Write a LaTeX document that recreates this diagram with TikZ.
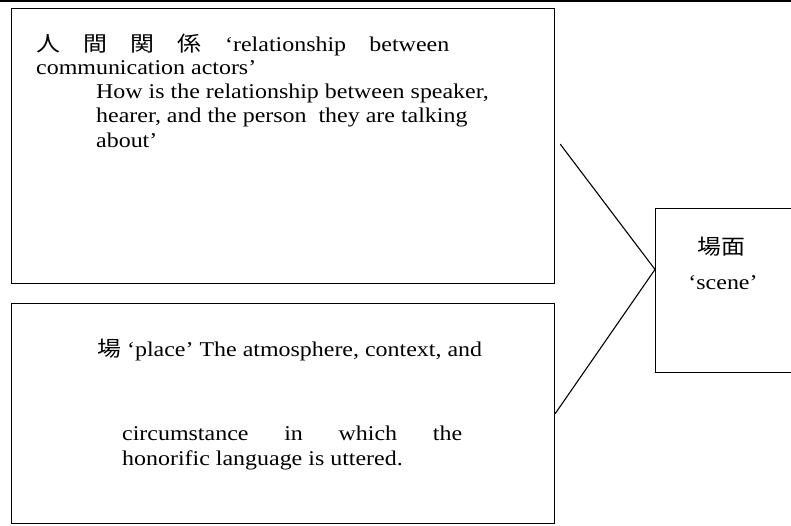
\documentclass[tikz,border=0pt]{standalone}
\usepackage{graphicx}
\usepackage{fontspec}
\setmainfont{Liberation Serif}
\newfontfamily\cjk{Noto Sans CJK JP}
\usetikzlibrary{calc}
\newcommand{\hstretch}[1]{\scalebox{1.14}[1]{#1}}
\tikzset{
  box/.style={draw=black, line width=1.2pt, rectangle, inner sep=0pt, anchor=north west},
  txt/.style={inner sep=0pt, anchor=base west, font=\fontsize{21}{24}\selectfont},
  ctxt/.style={inner sep=0pt, anchor=base, font=\fontsize{21}{24}\selectfont},
  conn/.style={draw=black, line width=1.1pt}
}
\begin{document}
\begin{tikzpicture}[x=1pt,y=-1pt]
\useasboundingbox (0,0) rectangle (791,525);
\fill[white] (0,0) rectangle (791,525);
\draw[line width=2.5pt] (0,1) -- (791,1);
% boxes
\node[box, minimum width=543pt, minimum height=275pt] (rel) at (11,8) {};
\node[box, minimum width=543pt, minimum height=220pt] (place) at (11,303) {};
\node[box, minimum width=140pt, minimum height=164pt] (scene) at (655,208) {};
\coordinate (meet) at ($(scene.north west)!0.372!(scene.south west)$);
% connectors
\draw[conn] (rel.east) ++(5,-2) -- (meet);
\draw[conn] (place.east) -- (meet);
% box 1 text
\node[txt] (r1) at (36,51) {\hstretch{\makebox[362.3pt][s]{{\cjk 人} {\cjk 間} {\cjk 関} {\cjk 係} ‘relationship between}}};
\node[txt] (r2) at (36,74) {\hstretch{communication actors’}};
\node[txt] (r3) at (96,98) {\hstretch{How is the relationship between speaker,}};
\node[txt] (r4) at (96,122) {\hstretch{hearer, and the person\ \ they are talking}};
\node[txt] (r5) at (96,147) {\hstretch{about’}};
% box 2 text
\node[txt] (p1) at (97,356) {\hstretch{{\cjk 場}\ ‘place’ The atmosphere, context, and}};
\node[txt] (p2) at (122,440) {\hstretch{\makebox[298.2pt][s]{circumstance in which the}}};
\node[txt] (p3) at (122,465) {\hstretch{honorific language is uttered.}};
% scene text
\node[ctxt] (s1) at (721,254) {\hstretch{{\cjk 場面}}};
\node[ctxt] (s2) at (723,289) {\hstretch{‘scene’}};
\end{tikzpicture}
\end{document}
